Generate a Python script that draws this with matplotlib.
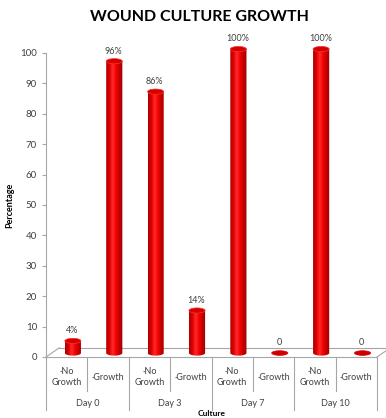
import numpy as np
import matplotlib.pyplot as plt
from matplotlib.patches import Ellipse, PathPatch
from matplotlib.path import Path
from matplotlib.colors import LinearSegmentedColormap
import matplotlib.transforms as mtransforms

plt.rcParams['font.family'] = ['Lato', 'DejaVu Sans']

# data
days = ['Day 0', 'Day 3', 'Day 7', 'Day 10']
groups = ['·No\nGrowth', '·Growth']
values = [4, 96, 86, 14, 100, 0, 100, 0]
value_labels = ['4%', '96%', '86%', '14%', '100%', '0', '100%', '0']

fig = plt.figure(figsize=(3.86, 4.18), dpi=100)
W, H = 386, 418
ymax = 104
ax = fig.add_axes([46 / W, (H - 357) / H, (377 - 46) / W, (357 - 53) * ymax / 100 / H])

n = len(values)

# 3D look: bars sit mid-depth on the floor
dx, dy = 0.15, 1.3
bw = 0.39
eh = 1.7

cmap = LinearSegmentedColormap.from_list(
    'cyl', ['#a80000', '#e00000', '#ff2a2a', '#f20000', '#c40000', '#9a0000'])
grad = np.linspace(0, 1, 64).reshape(1, -1)

xs = np.arange(n) + dx
for xc, v, lab in zip(xs, values, value_labels):
    x0, x1 = xc - bw / 2, xc + bw / 2
    bottom = dy
    top = dy + v
    if v > 0:
        t = np.linspace(np.pi, 2 * np.pi, 30)
        arc = np.column_stack([xc + bw / 2 * np.cos(t), bottom + eh / 2 * np.sin(t)])
        verts = np.vstack([[x0, top], arc, [x1, top], [x0, top]])
        codes = [Path.MOVETO] + [Path.LINETO] * (len(verts) - 2) + [Path.CLOSEPOLY]
        body = PathPatch(Path(verts, codes), facecolor='none', edgecolor='none')
        ax.add_patch(body)
        im = ax.imshow(grad, cmap=cmap, aspect='auto',
                       extent=(x0, x1, bottom - eh, top), zorder=2)
        im.set_clip_path(body)
        ax.add_patch(Ellipse((xc, top), bw, eh, facecolor='#d40000',
                             edgecolor='#ff3030', lw=0.5, zorder=3))
    else:
        ax.add_patch(Ellipse((xc, bottom), bw, eh * 0.9, facecolor='#cc0000',
                             edgecolor='#e00000', lw=0.5, zorder=3))
    ax.text(xc - 0.02, top + eh / 2 + 1.0, lab, ha='center', va='bottom',
            fontsize=6.5, color='#404040', clip_on=False)

ax.set_xlim(-0.5, n - 0.5)
ax.set_ylim(0, ymax)

# floor
fc = '#a6a6a6'
fx, fy = 0.32, 3.0
ax.plot([-0.5, -0.5 + fx], [0, fy], color=fc, lw=0.8, clip_on=False, zorder=1)
ax.plot([-0.5 + fx, n - 0.5 + fx + 0.3], [fy, fy], color=fc, lw=0.8, clip_on=False, zorder=1)
ax.plot([n - 0.5, n - 0.5 + fx], [0, fy], color=fc, lw=0.8, clip_on=False, zorder=1)

# axes style
for s in ['top', 'right']:
    ax.spines[s].set_visible(False)
ax.spines['left'].set_color(fc)
ax.spines['bottom'].set_color(fc)
ax.spines['left'].set_linewidth(0.8)
ax.spines['bottom'].set_linewidth(0.8)
ax.spines['left'].set_bounds(0, 100)
ax.spines['bottom'].set_bounds(-0.5, n - 0.5)
ax.set_yticks(np.arange(0, 101, 10))
ax.tick_params(axis='y', colors=fc, labelcolor='#404040', labelsize=7, length=3, width=0.8)
ax.set_xticks([])
ax.set_ylabel('Percentage', fontsize=6.5, fontweight='bold')
ax.yaxis.set_label_coords((14 - 46) / (377 - 46), 152 / ((357 - 53) * ymax / 100))

# multi-level category labels
tr = mtransforms.blended_transform_factory(ax.transData, fig.transFigure)
yf = lambda px: (H - px) / H
for i in range(n):
    ax.text(i, yf(377), groups[i % 2], transform=tr, ha='center', va='center',
            fontsize=6.5, color='#404040', linespacing=1.4)
for b in range(n + 1):
    x = b - 0.5
    end = 410 if b % 2 == 0 else 391
    ax.plot([x, x], [yf(357), yf(end)], transform=tr, color=fc, lw=0.8, clip_on=False)
for j, d in enumerate(days):
    ax.text(2 * j + 0.5, yf(404), d, transform=tr, ha='center', va='center',
            fontsize=6.5, color='#404040')

fig.text(212 / W, yf(413), 'Culture', ha='center', va='center', fontsize=6,
         fontweight='bold')
fig.text(199 / W, yf(17), 'WOUND CULTURE GROWTH', ha='center', va='center',
         fontsize=11.5, fontweight='bold')

fig.savefig('out.png', dpi=100)
